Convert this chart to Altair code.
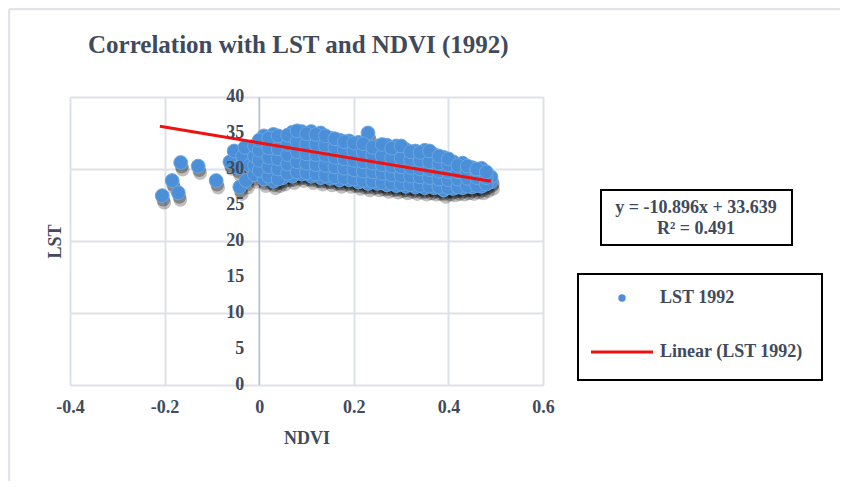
import altair as alt
import pandas as pd

# ---- data ----
ndvi = [
    -0.205, -0.171, -0.184, -0.166, -0.129, -0.091, -0.062, -0.053, -0.041, -0.028,
    -0.045, -0.035, -0.020, -0.030,
    -0.01, -0.01, -0.01, -0.01,
    0.01, 0.01, 0.01, 0.01, 0.01, 0.01,
    0.03, 0.03, 0.03, 0.03, 0.03, 0.03, 0.03,
    0.05, 0.05, 0.05, 0.05, 0.05, 0.05,
    0.07, 0.07, 0.07, 0.07, 0.07, 0.07, 0.07,
    0.09, 0.09, 0.09, 0.09, 0.09, 0.09, 0.09,
    0.11, 0.11, 0.11, 0.11, 0.11, 0.11, 0.11,
    0.13, 0.13, 0.13, 0.13, 0.13, 0.13, 0.13,
    0.15, 0.15, 0.15, 0.15, 0.15, 0.15,
    0.17, 0.17, 0.17, 0.17, 0.17, 0.17,
    0.19, 0.19, 0.19, 0.19, 0.19, 0.19,
    0.21, 0.21, 0.21, 0.21, 0.21, 0.21,
    0.23, 0.23, 0.23, 0.23, 0.23, 0.23, 0.23,
    0.25, 0.25, 0.25, 0.25, 0.25, 0.25,
    0.27, 0.27, 0.27, 0.27, 0.27, 0.27,
    0.29, 0.29, 0.29, 0.29, 0.29, 0.29,
    0.31, 0.31, 0.31, 0.31, 0.31, 0.31,
    0.33, 0.33, 0.33, 0.33, 0.33, 0.33,
    0.35, 0.35, 0.35, 0.35, 0.35, 0.35,
    0.37, 0.37, 0.37, 0.37, 0.37, 0.37,
    0.39, 0.39, 0.39, 0.39, 0.39, 0.39,
    0.41, 0.41, 0.41, 0.41, 0.41,
    0.43, 0.43, 0.43, 0.43, 0.43,
    0.45, 0.45, 0.45, 0.45,
    0.47, 0.47, 0.47, 0.47,
    0.49, 0.49,
    # interleaved columns
    0.00, 0.00, 0.00, 0.00,
    0.02, 0.02, 0.02, 0.02, 0.02,
    0.04, 0.04, 0.04, 0.04, 0.04,
    0.06, 0.06, 0.06, 0.06, 0.06,
    0.08, 0.08, 0.08, 0.08, 0.08,
    0.10, 0.10, 0.10, 0.10, 0.10,
    0.12, 0.12, 0.12, 0.12, 0.12,
    0.14, 0.14, 0.14, 0.14, 0.14,
    0.16, 0.16, 0.16, 0.16, 0.16,
    0.18, 0.18, 0.18, 0.18, 0.18,
    0.20, 0.20, 0.20, 0.20, 0.20,
    0.22, 0.22, 0.22, 0.22, 0.22,
    0.24, 0.24, 0.24, 0.24, 0.24,
    0.26, 0.26, 0.26, 0.26, 0.26,
    0.28, 0.28, 0.28, 0.28, 0.28,
    0.30, 0.30, 0.30, 0.30, 0.30,
    0.32, 0.32, 0.32, 0.32, 0.32,
    0.34, 0.34, 0.34, 0.34, 0.34,
    0.36, 0.36, 0.36, 0.36, 0.36,
    0.38, 0.38, 0.38, 0.38, 0.38,
    0.40, 0.40, 0.40, 0.40, 0.40,
    0.42, 0.42, 0.42, 0.42,
    0.44, 0.44, 0.44, 0.44,
    0.46, 0.46, 0.46, 0.46,
    0.48, 0.48, 0.48,
]
lst = [
    26.3, 26.7, 28.4, 30.9, 30.4, 28.4, 31.0, 32.5, 27.5, 28.4,
    30.2, 31.8, 30.5, 33.0,
    29.2, 30.5, 31.8, 33.2,
    28.6, 29.8, 31.0, 32.2, 33.4, 34.6,
    28.3, 29.4, 30.6, 31.8, 33.0, 34.2, 34.8,
    28.8, 29.9, 31.0, 32.1, 33.2, 34.3,
    29.0, 30.1, 31.2, 32.3, 33.4, 34.5, 35.1,
    29.3, 30.4, 31.5, 32.6, 33.7, 34.8, 35.2,
    29.0, 30.1, 31.2, 32.3, 33.4, 34.5, 35.2,
    28.8, 29.9, 31.0, 32.1, 33.2, 34.3, 35.0,
    28.7, 29.8, 30.9, 32.0, 33.1, 34.3,
    28.5, 29.6, 30.7, 31.8, 32.9, 34.0,
    28.5, 29.6, 30.7, 31.8, 32.9, 33.9,
    28.2, 29.3, 30.4, 31.5, 32.6, 33.7,
    28.0, 29.1, 30.2, 31.3, 32.4, 33.4, 35.0,
    28.0, 29.0, 30.0, 31.1, 32.2, 33.2,
    27.8, 28.8, 29.8, 30.9, 32.0, 33.3,
    27.7, 28.7, 29.7, 30.8, 31.9, 33.2,
    27.6, 28.6, 29.6, 30.7, 31.8, 32.7,
    27.5, 28.5, 29.5, 30.5, 31.6, 32.5,
    27.4, 28.4, 29.4, 30.4, 31.5, 32.6,
    27.4, 28.4, 29.3, 30.3, 31.2, 32.0,
    27.1, 28.1, 29.1, 30.1, 31.1, 31.6,
    27.3, 28.2, 29.1, 30.1, 31.0,
    27.4, 28.3, 29.2, 30.1, 30.8,
    27.5, 28.4, 29.3, 30.2,
    27.6, 28.5, 29.4, 30.1,
    28.2, 28.9,
    # interleaved columns
    29.8, 31.2, 32.6, 34.0,
    29.0, 30.3, 31.6, 32.9, 34.3,
    28.6, 30.0, 31.4, 32.8, 34.6,
    29.4, 30.7, 32.0, 33.4, 34.7,
    29.6, 31.0, 32.4, 33.8, 35.3,
    29.5, 30.8, 32.1, 33.5, 34.9,
    29.3, 30.6, 32.0, 33.4, 34.8,
    29.1, 30.5, 31.9, 33.3, 34.6,
    28.9, 30.3, 31.6, 33.0, 34.2,
    28.8, 30.1, 31.4, 32.7, 33.8,
    28.6, 29.9, 31.2, 32.5, 33.6,
    28.4, 29.7, 31.0, 32.3, 33.5,
    28.3, 29.6, 30.8, 32.0, 33.0,
    28.1, 29.4, 30.6, 31.8, 33.4,
    28.0, 29.2, 30.4, 31.6, 32.9,
    27.9, 29.1, 30.3, 31.5, 33.2,
    27.8, 29.0, 30.2, 31.3, 32.4,
    27.7, 28.9, 30.0, 31.2, 32.3,
    27.6, 28.8, 29.9, 31.0, 32.5,
    27.5, 28.6, 29.7, 30.8, 31.8,
    27.4, 28.5, 29.6, 30.6, 31.4,
    27.5, 28.6, 29.6, 30.5,
    27.6, 28.7, 29.7, 30.4,
    27.7, 28.8, 29.8, 30.0,
    27.9, 28.8, 29.6,
]
trend_x = [-0.21, 0.49]
trend_y = [35.93, 28.30]

x_ticks = [-0.4, -0.2, 0, 0.2, 0.4, 0.6]
y_ticks = [0, 5, 10, 15, 20, 25, 30, 35, 40]

title_text = "Correlation with LST and NDVI (1992)"
eq_lines = ["y = -10.896x + 33.639", "R² = 0.491"]
legend_labels = ["LST 1992", "Linear (LST 1992)"]

FONT = "Liberation Serif"
TXT = "#404a5c"
GRID = "#dde1e9"
BLUE = "#4a8fd8"
W, H = 473, 288

pts = pd.DataFrame({"NDVI": ndvi, "LST": lst})
trend = pd.DataFrame({"NDVI": trend_x, "LST": trend_y})
ytk = pd.DataFrame({"v": y_ticks, "x0": [0] * len(y_ticks)})

xs = alt.Scale(domain=[-0.4, 0.6], nice=False, zero=False)
ys = alt.Scale(domain=[0, 40], nice=False, zero=False)

x_axis = alt.Axis(
    values=x_ticks, grid=True, gridColor=GRID, gridWidth=2, domain=False, ticks=False,
    labelExpr="datum.value == 0 ? '0' : (datum.value < 0 ? '-' + format(-datum.value, '.1f') : format(datum.value, '.1f'))",
    labelFont=FONT, labelFontSize=18, labelFontWeight="bold", labelColor=TXT, labelPadding=13,
    labelFlush=False, labelOverlap=False,
    title="NDVI", titleFont=FONT, titleFontSize=18, titleFontWeight="bold", titleColor=TXT,
    titlePadding=13,
)
y_axis = alt.Axis(
    values=y_ticks, grid=True, gridColor=GRID, gridWidth=2, domain=False, ticks=False,
    labels=False, title="LST", titleFont=FONT, titleFontSize=18, titleFontWeight="bold",
    titleColor=TXT, titleX=-15, titleY=H / 2, titleAngle=-90, titleAlign="center",
    titleBaseline="middle",
)

base = alt.Chart(pts)

grid_layer = alt.Chart(ytk).mark_point(opacity=0).encode(
    x=alt.X("x0:Q", scale=xs, axis=x_axis),
    y=alt.Y("v:Q", scale=ys, axis=y_axis),
)

zero_line = alt.Chart(pd.DataFrame({"z": [0]})).mark_rule(color="#a8b3c7", strokeWidth=1).encode(
    x=alt.X("z:Q", scale=xs)
)

shadow_far = base.mark_circle(size=190, color="black", opacity=0.25, xOffset=2, yOffset=7).encode(
    x=alt.X("NDVI:Q", scale=xs), y=alt.Y("LST:Q", scale=ys)
)
shadow = base.mark_circle(size=190, color="black", opacity=0.3, xOffset=1, yOffset=4).encode(
    x=alt.X("NDVI:Q", scale=xs), y=alt.Y("LST:Q", scale=ys)
)
points = base.mark_circle(size=190, color=BLUE, opacity=1, stroke="#6aa6e2", strokeWidth=1).encode(
    x=alt.X("NDVI:Q", scale=xs), y=alt.Y("LST:Q", scale=ys)
)
line = alt.Chart(trend).mark_line(color="#f01010", strokeWidth=3).encode(
    x=alt.X("NDVI:Q", scale=xs), y=alt.Y("LST:Q", scale=ys)
)

ylabels = alt.Chart(ytk).mark_text(
    font=FONT, fontSize=18, fontWeight="bold", color=TXT, align="right", baseline="middle", dx=-15
).encode(x=alt.X("x0:Q", scale=xs), y=alt.Y("v:Q", scale=ys), text="v:Q")

one = pd.DataFrame({"a": [0]})

title = alt.Chart(one).mark_text(
    text=title_text, font=FONT, fontSize=25, fontWeight="bold", color=TXT, align="left", baseline="middle"
).encode(x=alt.value(18), y=alt.value(-52))

# outer page border lines (left and top)
border_left = alt.Chart(one).mark_rule(color="#e1e4ea", strokeWidth=2.5).encode(
    x=alt.value(-61), y=alt.value(-88), y2=alt.value(392)
)
border_top = alt.Chart(one).mark_rule(color="#e1e4ea", strokeWidth=2.5).encode(
    x=alt.value(-61), x2=alt.value(775), y=alt.value(-88)
)

eq_box = alt.Chart(one).mark_rect(fill="white", stroke="black", strokeWidth=2).encode(
    x=alt.value(531), x2=alt.value(722), y=alt.value(93), y2=alt.value(148)
)
eq_txt = alt.Chart(pd.DataFrame({"t": eq_lines, "yy": [111, 132]})).mark_text(
    font=FONT, fontSize=18, fontWeight="bold", color=TXT, align="center", baseline="middle"
).encode(x=alt.value(626), y=alt.Y("yy:Q", scale=None), text="t:N")

lg_box = alt.Chart(one).mark_rect(fill="white", stroke="black", strokeWidth=2).encode(
    x=alt.value(508), x2=alt.value(752), y=alt.value(177), y2=alt.value(283)
)
lg_dot = alt.Chart(one).mark_circle(size=55, color=BLUE, opacity=1).encode(
    x=alt.value(552), y=alt.value(201)
)
lg_line = alt.Chart(one).mark_rule(color="#f01010", strokeWidth=3).encode(
    x=alt.value(521), x2=alt.value(583), y=alt.value(255)
)
lg_txt = alt.Chart(pd.DataFrame({"t": legend_labels, "yy": [201, 255]})).mark_text(
    font=FONT, fontSize=18, fontWeight="bold", color=TXT, align="left", baseline="middle"
).encode(x=alt.value(590), y=alt.Y("yy:Q", scale=None), text="t:N")

chart = alt.layer(
    border_left, border_top, grid_layer, zero_line, shadow_far, shadow, points, line, ylabels, title,
    eq_box, eq_txt, lg_box, lg_dot, lg_line, lg_txt,
).properties(
    width=W, height=H,
    autosize=alt.AutoSizeParams(type="none"),
    padding={"left": 62, "top": 89, "right": 297, "bottom": 96},
).configure_view(strokeWidth=0).configure(background="white")

chart.save("out.html", embed_options={"renderer": "svg", "actions": False})
